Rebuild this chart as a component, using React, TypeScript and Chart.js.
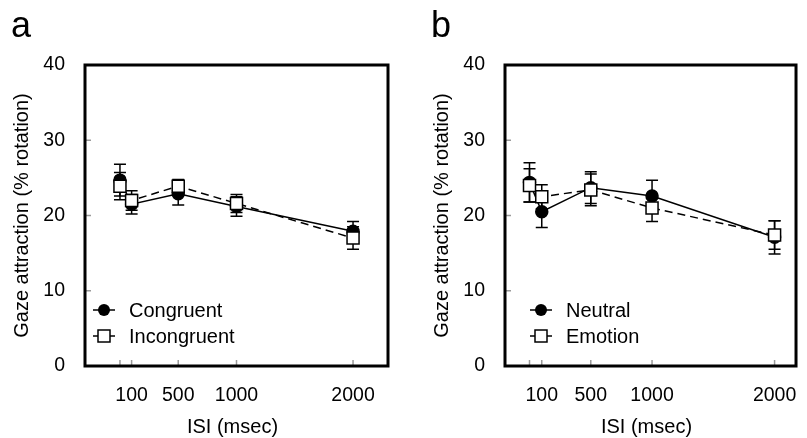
import React, { useEffect, useRef } from 'react';
import { Chart, registerables } from 'chart.js';
Chart.register(...registerables);

const FONT = '"Liberation Sans", Arial, Helvetica, sans-serif';

const isiMs = [0, 100, 500, 1000, 2000];
const xTickValues = [0, 100, 500, 1000, 2000];
const xTickLabels = ['', '100', '500', '1000', '2000'];
const yTickValues = [0, 10, 20, 30, 40];

const congruentMean = [24.7, 21.5, 22.9, 21.2, 17.9];
const congruentErr = [2.1, 1.3, 1.5, 1.3, 1.3];
const incongruentMean = [23.9, 22.0, 23.9, 21.6, 17.0];
const incongruentErr = [1.8, 1.3, 0.9, 1.2, 1.5];

const neutralMean = [24.4, 20.5, 23.7, 22.6, 17.1];
const neutralErr = [2.6, 2.1, 2.1, 2.1, 2.2];
const emotionMean = [24.0, 22.5, 23.4, 21.0, 17.4];
const emotionErr = [2.2, 1.6, 2.1, 1.8, 1.9];

type Series = { name: string; mean: number[]; err: number[]; filled: boolean; dashed: boolean };

type PanelProps = {
  letter: string;
  series: Series[];
  xMin: number;
  xMax: number;
  left: number;
  width: number;
  yAxisWidth: number;
  rightPad: number;
  legendDx: number;
};

function Panel(props: PanelProps) {
  const ref = useRef<HTMLCanvasElement | null>(null);
  useEffect(() => {
    const canvas = ref.current;
    if (!canvas) return;
    const { series } = props;

    const drawMarker = (ctx: CanvasRenderingContext2D, px: number, py: number, filled: boolean) => {
      ctx.save();
      ctx.lineWidth = 1.5;
      ctx.strokeStyle = '#000';
      if (filled) {
        ctx.fillStyle = '#000';
        ctx.beginPath();
        ctx.arc(px, py, 6, 0, Math.PI * 2);
        ctx.fill();
      } else {
        ctx.fillStyle = '#fff';
        ctx.fillRect(px - 6, py - 6, 12, 12);
        ctx.strokeRect(px - 6, py - 6, 12, 12);
      }
      ctx.restore();
    };

    const decor = {
      id: 'decor',
      beforeDatasetsDraw(chart: any) {
        const { ctx, chartArea: a } = chart;
        const x = chart.scales.x;
        const y = chart.scales.y;
        ctx.save();
        // inward tick marks
        ctx.strokeStyle = '#9a9a9a';
        ctx.lineWidth = 1.5;
        ctx.beginPath();
        yTickValues.forEach((v) => {
          const py = y.getPixelForValue(v);
          ctx.moveTo(a.left, py);
          ctx.lineTo(a.left + 6, py);
        });
        xTickValues.forEach((v) => {
          const px = x.getPixelForValue(v);
          ctx.moveTo(px, a.bottom);
          ctx.lineTo(px, a.bottom - 6);
        });
        ctx.stroke();
        // error bars
        ctx.strokeStyle = '#000';
        ctx.lineWidth = 1.5;
        series.forEach((s) => {
          s.mean.forEach((m, i) => {
            const px = x.getPixelForValue(isiMs[i]);
            const top = y.getPixelForValue(m + s.err[i]);
            const bot = y.getPixelForValue(m - s.err[i]);
            ctx.beginPath();
            ctx.moveTo(px, top);
            ctx.lineTo(px, bot);
            ctx.moveTo(px - 6, top);
            ctx.lineTo(px + 6, top);
            ctx.moveTo(px - 6, bot);
            ctx.lineTo(px + 6, bot);
            ctx.stroke();
          });
        });
        ctx.restore();
      },
      afterDraw(chart: any) {
        const { ctx, chartArea: a } = chart;
        ctx.save();
        // frame
        ctx.strokeStyle = '#000';
        ctx.lineWidth = 3;
        ctx.strokeRect(a.left, a.top, a.right - a.left, a.bottom - a.top);
        // legend
        const lx = a.left + props.legendDx;
        series.forEach((s, i) => {
          const ly = a.bottom - 56 + 26 * i;
          ctx.strokeStyle = '#000';
          ctx.lineWidth = 1.5;
          ctx.beginPath();
          ctx.moveTo(lx - 11, ly);
          ctx.lineTo(lx + 11, ly);
          ctx.stroke();
          drawMarker(ctx, lx, ly, s.filled);
          ctx.fillStyle = '#000';
          ctx.font = `20px ${FONT}`;
          ctx.textBaseline = 'middle';
          ctx.textAlign = 'left';
          ctx.fillText(s.name, lx + 25, ly + 1);
        });
        // axis titles
        ctx.fillStyle = '#000';
        ctx.font = `20px ${FONT}`;
        ctx.textAlign = 'center';
        ctx.textBaseline = 'middle';
        ctx.fillText('ISI (msec)', (a.left + a.right) / 2 - 4, a.bottom + 61);
        ctx.save();
        ctx.translate(a.left - 63, (a.top + a.bottom) / 2);
        ctx.rotate(-Math.PI / 2);
        ctx.fillText('Gaze attraction (% rotation)', 0, 0);
        ctx.restore();
        // panel letter
        ctx.font = `36px ${FONT}`;
        ctx.textAlign = 'left';
        ctx.textBaseline = 'alphabetic';
        ctx.fillText(props.letter, a.left - 74, 37);
        ctx.restore();
      },
    };

    const datasets = series.map((s) => ({
      label: s.name,
      data: s.mean.map((m, i) => ({ x: isiMs[i], y: m })),
      borderColor: '#000',
      borderWidth: 1.5,
      borderDash: s.dashed ? [8, 5] : [],
      pointStyle: s.filled ? 'circle' : 'rect',
      pointRadius: s.filled ? 6 : 8.5,
      pointBackgroundColor: s.filled ? '#000' : '#fff',
      pointBorderColor: '#000',
      pointBorderWidth: 1.5,
      tension: 0,
      fill: false,
      order: s.filled ? 2 : 1,
    }));

    const chart = new Chart(canvas, {
      type: 'line',
      data: { datasets } as any,
      plugins: [decor],
      options: {
        animation: false,
        responsive: false,
        maintainAspectRatio: false,
        layout: { padding: { top: 65, right: props.rightPad, left: 0, bottom: 0 } },
        plugins: { legend: { display: false }, tooltip: { enabled: false } },
        scales: {
          x: {
            type: 'linear',
            min: props.xMin,
            max: props.xMax,
            grid: { display: false },
            border: { display: false },
            afterBuildTicks: (scale: any) => {
              scale.ticks = xTickValues.map((v) => ({ value: v }));
            },
            afterFit: (scale: any) => {
              scale.height = 72;
            },
            ticks: {
              autoSkip: false,
              maxRotation: 0,
              padding: 10,
              color: '#000',
              font: { family: FONT, size: 19.5 },
              callback: (value: any) => {
                const k = xTickValues.indexOf(Number(value));
                return k >= 0 ? xTickLabels[k] : '';
              },
            },
          },
          y: {
            type: 'linear',
            min: 0,
            max: 40,
            grid: { display: false },
            border: { display: false },
            afterBuildTicks: (scale: any) => {
              scale.ticks = yTickValues.map((v) => ({ value: v }));
            },
            afterFit: (scale: any) => {
              scale.width = props.yAxisWidth;
            },
            ticks: {
              padding: 12,
              color: '#000',
              font: { family: FONT, size: 19.5 },
              callback: (value: any) => String(value),
            },
          },
        },
      } as any,
    });
    return () => chart.destroy();
  }, []);

  return (
    <canvas
      ref={ref}
      width={props.width}
      height={438}
      style={{ position: 'absolute', left: props.left, top: 0, width: props.width, height: 438 }}
    />
  );
}

export default function App() {
  const seriesA: Series[] = [
    { name: 'Congruent', mean: congruentMean, err: congruentErr, filled: true, dashed: false },
    { name: 'Incongruent', mean: incongruentMean, err: incongruentErr, filled: false, dashed: true },
  ];
  const seriesB: Series[] = [
    { name: 'Neutral', mean: neutralMean, err: neutralErr, filled: true, dashed: false },
    { name: 'Emotion', mean: emotionMean, err: emotionErr, filled: false, dashed: true },
  ];
  return (
    <div
      style={{
        position: 'absolute',
        left: 0,
        top: 0,
        width: 807,
        height: 438,
        overflow: 'hidden',
        background: '#fff',
      }}
    >
      <Panel letter="a" series={seriesA} xMin={-300} xMax={2300} left={0} width={400} yAxisWidth={85} rightPad={12} legendDx={19} />
      <Panel letter="b" series={seriesB} xMin={-200} xMax={2175} left={400} width={407} yAxisWidth={105} rightPad={1} legendDx={36} />
    </div>
  );
}
